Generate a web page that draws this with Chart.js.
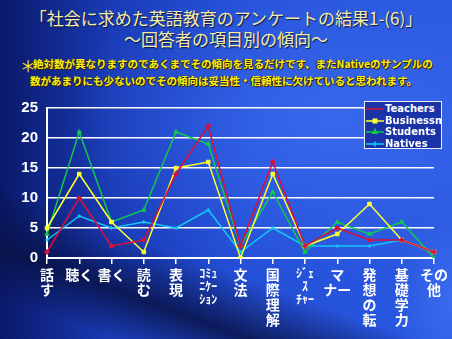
<!DOCTYPE html>
<html>
<head>
<meta charset="utf-8">
<script src="https://cdn.jsdelivr.net/npm/chart.js"></script>
<style>
  body {
    margin: 0;
    width: 452px;
    height: 339px;
    overflow: hidden;
    position: relative;
    font-family: "Noto Sans CJK JP", sans-serif;
    background:
      radial-gradient(ellipse 60px 90px at 452px 300px, rgba(60,110,240,0.9), rgba(60,110,240,0) 100%),
      linear-gradient(200deg, rgba(10,20,80,0) 70%, rgba(8,18,70,0.85) 82%, rgba(8,18,70,0) 92%),
      radial-gradient(ellipse 260px 160px at 330px 120px, rgba(70,120,250,0.55), rgba(70,120,250,0) 100%),
      linear-gradient(90deg, #0a1868 0%, #1a3cb8 25%, #2450d8 55%, #2a58e0 100%);
  }
  .title {
    position: absolute; left: 0; width: 452px; text-align: center;
    color: #f4eca8; font-size: 17px; line-height: 20px;
    text-shadow: 1px 1px 1px #101840;
  }
  .note {
    position: absolute; left: 33px; color: #ffee10; font-weight: bold;
    font-size: 10.5px; line-height: 14px; white-space: nowrap;
    text-shadow: 1px 1px 0 #302000, -1px 0 0 #403000;
  }
  #star { position: absolute; left: 20px; top: 53px; color: #ffee10; font-size: 16px; }
  #chartWrap { position: absolute; left: 0; top: 0; width: 452px; height: 339px; }
  #legend {
    position: absolute; left: 364px; top: 101px; width: 76px; height: 46px;
    border: 1px solid #e8eef8; background: #1a34a8; overflow: hidden;
  }
  .lg { position: absolute; left: 1px; height: 12px; white-space: nowrap;
    color: #fff; font: bold 10px "DejaVu Sans", sans-serif; line-height: 12px; }
  .lg canvas { vertical-align: middle; margin-right: 1px; }
</style>
</head>
<body>
<div class="title" style="top:8px">「社会に求めた英語教育のアンケートの結果1-(6)」</div>
<div class="title" style="top:29px">～回答者の項目別の傾向～</div>
<div id="star">＊</div>
<div class="note" style="top:57px">絶対数が異なりますのであくまでその傾向を見るだけです、またNativeのサンプルの</div>
<div class="note" style="top:74px;left:30px">数があまりにも少ないのでその傾向は妥当性・信頼性に欠けていると思われます。</div>
<div id="chartWrap"><canvas id="c" width="452" height="339"></canvas></div>
<div id="legend"></div>
<script>
// categories (multi-line labels as on the slide)
const categories = [
  ['話', 'す'], ['聴く'], ['書く'], ['読', 'む'], ['表', '現'],
  ['ｺﾐｭ', 'ﾆｹｰ', 'ｼｮﾝ'], ['文', '法'], ['国', '際', '理', '解'],
  ['ｼﾞｪ', 'ｽ', 'ﾁｬｰ'], ['マ', 'ナー'], ['発', '想', 'の', '転'],
  ['基', '礎', '学', '力'], ['その', '他']
];
const seriesNames = ['Teachers', 'Businessmen', 'Students', 'Natives'];
const teachers    = [1, 10, 2, 3, 14, 22, 2, 16, 2, 5, 3, 3, 1];
const businessmen = [5, 14, 6, 1, 15, 16, 0, 14, 2, 4, 9, 3, 1];
const students    = [4, 21, 6, 8, 21, 19, 2, 11, 1, 6, 4, 6, 0];
const natives     = [3, 7, 5, 6, 5, 8, 1, 5, 2, 2, 2, 3, 1];
const yTicks = [0, 5, 10, 15, 20, 25];

const colors = ['#d8103c', '#ffff30', '#10c850', '#10c8f8'];
const styles = ['rectRot', 'rect', 'triangle', 'cross'];
const values = [teachers, businessmen, students, natives];

const datasets = seriesNames.map((name, i) => ({
  label: name,
  data: values[i],
  borderColor: colors[i],
  backgroundColor: colors[i],
  borderWidth: 1.5,
  pointStyle: styles[i],
  pointRadius: i === 3 ? 2 : 2.5,
  pointBorderWidth: 1,
  tension: 0
}));

const smallIdx = [5, 8];

new Chart(document.getElementById('c'), {
  type: 'line',
  data: { labels: categories, datasets: datasets },
  options: {
    responsive: false,
    animation: false,
    layout: { padding: { top: 108, right: 18, left: 0, bottom: 0 } },
    plugins: { legend: { display: false }, tooltip: { enabled: false } },
    scales: {
      x: {
        offset: false,
        grid: { drawOnChartArea: false, drawTicks: true, tickLength: 6, color: '#ffffff', lineWidth: 1.5 },
        border: { color: '#ffffff', width: 2 },
        ticks: {
          color: '#ffffff', autoSkip: false, maxRotation: 0, padding: 3,
          font: ctx => ({
            family: '"Noto Sans CJK JP", sans-serif', weight: 'bold',
            size: smallIdx.includes(ctx.index) ? 12 : 14, lineHeight: 1.08
          })
        },
        afterFit: s => { s.height = 81; }
      },
      y: {
        min: 0, max: 25,
        afterBuildTicks: s => { s.ticks = yTicks.map(v => ({ value: v })); },
        grid: { color: '#ffffff', lineWidth: 1.5, drawTicks: false },
        border: { color: '#ffffff', width: 2 },
        ticks: { color: '#ffffff', padding: 9, font: { family: 'Arial, "Liberation Sans"', weight: 'bold', size: 15 } },
        afterFit: s => { s.width = 47; }
      }
    }
  }
});

// legend box drawn over the plot, as on the slide
const legend = document.getElementById('legend');
seriesNames.forEach((name, i) => {
  const row = document.createElement('div');
  row.className = 'lg';
  row.style.top = (1 + i * 11.5) + 'px';
  const cv = document.createElement('canvas');
  cv.width = 18; cv.height = 10;
  const g = cv.getContext('2d');
  g.strokeStyle = colors[i]; g.fillStyle = colors[i]; g.lineWidth = 1.5;
  g.beginPath(); g.moveTo(0, 5); g.lineTo(18, 5); g.stroke();
  Chart.helpers.drawPoint(g, { pointStyle: styles[i], radius: i === 0 ? 0 : 2.5, borderWidth: 1 }, 9, 5);
  row.appendChild(cv);
  row.appendChild(document.createTextNode(name));
  legend.appendChild(row);
});
</script>
</body>
</html>
